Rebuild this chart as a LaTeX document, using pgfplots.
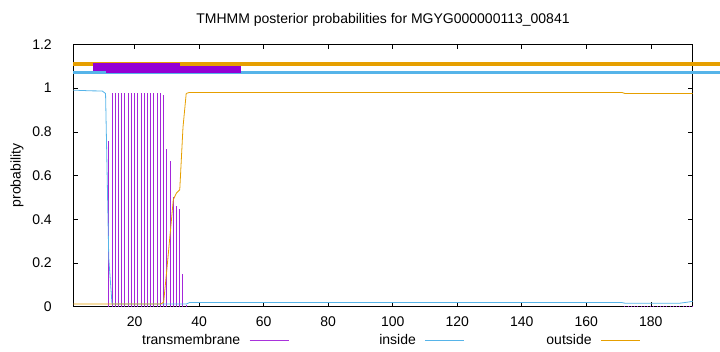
\documentclass[border=0pt]{standalone}
\usepackage{fontspec}
\setmainfont{Liberation Sans}
\usepackage{pgfplots}
\pgfplotsset{compat=1.18}
\definecolor{tmcol}{HTML}{9400D3}
\definecolor{incol}{HTML}{56B4E9}
\definecolor{outcol}{HTML}{E69F00}
\newcommand{\gfont}{\fontsize{14}{16}\selectfont}
\begin{document}
\begin{tikzpicture}
\path[use as bounding box] (0pt,0pt) rectangle (720pt,352pt);
\begin{axis}[
  at={(73.3pt,45.3pt)}, anchor=south west,
  scale only axis, width=619.4pt, height=262.4pt,
  xmin=1, xmax=193, ymin=0, ymax=1.2,
  clip=false,
  xtick={20,40,...,180},
  ytick={0,0.2,0.4,0.6,0.8,1,1.2},
  tick pos=both, tick align=inside,
  major tick length=5pt,
  every tick/.style={black, line width=0.5pt},
  axis line style={line width=0.9pt},
  /pgf/number format/assume math mode=true,
  ticklabel style={font=\gfont},
  yticklabel style={xshift=-18pt},
  xticklabel style={yshift=-6pt},
  title={TMHMM posterior probabilities for MGYG000000113\_00841},
  title style={font=\gfont, at={(0.5,1)}, anchor=center, yshift=18pt},
  ylabel={probability},
  every axis y label/.style={at={(axis description cs:-0.0909,0.5)}, rotate=90, anchor=center, font=\gfont},
  legend columns=3,
  legend plot pos=right,
  legend cell align=right,
  legend style={draw=none, fill=none, font=\gfont, inner sep=0pt,
    nodes={inner sep=0pt}, column sep=9pt,
    at={(0.0786,-0.127)}, anchor=west},
]
% top bars
\addplot[forget plot, outcol, line width=4pt, line cap=butt] coordinates {(1,1.111) (201.4,1.111)};
\addplot[forget plot, incol, line width=3pt, line cap=butt] coordinates {(1,1.072) (201.4,1.072)};
\addplot[forget plot, tmcol, line width=8pt, line cap=butt] coordinates {(7.12,1.096) (34.16,1.096)};
\addplot[forget plot, tmcol, line width=7.3pt, line cap=butt] coordinates {(11.24,1.085) (53.05,1.085)};
% transmembrane
\addplot[ycomb, tmcol!85, line width=1pt, no marks,
  legend image code/.code={\draw[tmcol!80, line width=0.7pt] (0pt,0pt) -- (39pt,0pt);}]
coordinates {
(12,0.76)(13,0.975)(14,0.978)(15,0.978)(16,0.978)(17,0.978)(18,0.978)(19,0.978)
(20,0.978)(21,0.978)(22,0.978)(23,0.978)(24,0.978)(25,0.977)(26,0.977)(27,0.976)
(28,0.975)(29,0.968)(30,0.72)(31,0.665)(32,0.50)(33,0.46)(34,0.445)(35,0.15)(36,0.01)
(172,0.005)(173,0.005)(174,0.005)(175,0.005)(176,0.005)(177,0.005)(178,0.005)(179,0.005)
(180,0.005)(181,0.005)(182,0.005)(183,0.005)(184,0.005)(185,0.005)(186,0.005)(187,0.005)
(188,0.005)(189,0.005)(190,0.005)(191,0.005)(192,0.005)(193,0.005)
};
\addlegendentry{\makebox[118pt][r]{transmembrane}}
% inside
\addplot[incol, line width=0.8pt, no marks,
  legend image code/.code={\draw[incol, line width=0.7pt] (0pt,0pt) -- (39pt,0pt);}]
coordinates {
(1,0.99)(2,0.99)(3,0.989)(4,0.989)(5,0.988)(6,0.988)(7,0.987)(8,0.987)(9,0.986)(10,0.986)
(11,0.975)(12,0.22)(13,0.012)(36,0.012)(37,0.019)(171,0.019)(172,0.016)(189,0.016)
(190,0.018)(191,0.02)(192,0.022)(193,0.025)
};
\addlegendentry{\makebox[118pt][r]{inside}}
% outside
\addplot[outcol, line width=0.8pt, no marks,
  legend image code/.code={\draw[outcol, line width=0.7pt] (0pt,0pt) -- (39pt,0pt);}]
coordinates {
(1,0.012)(28,0.012)(29,0.02)(30,0.17)(31,0.33)(32,0.49)(33,0.52)(34,0.535)(35,0.82)
(36,0.975)(37,0.98)(171,0.98)(172,0.975)(193,0.975)
};
\addlegendentry{\makebox[118pt][r]{outside}}
\end{axis}
\end{tikzpicture}
\end{document}
